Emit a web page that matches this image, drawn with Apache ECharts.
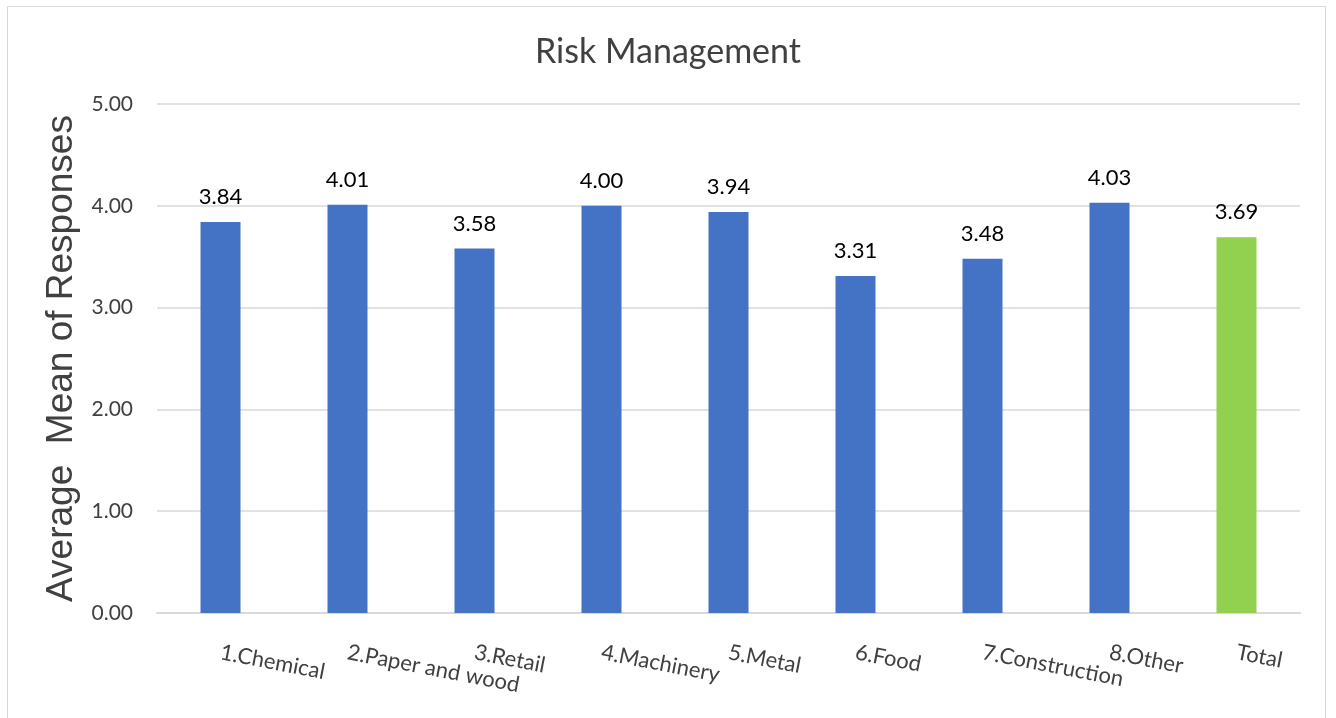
<!DOCTYPE html>
<html>
<head>
<meta charset="utf-8">
<script src="https://cdn.jsdelivr.net/npm/echarts@6/dist/echarts.min.js"></script>
<style>
html,body{margin:0;padding:0;background:#fff;}
#frame{position:absolute;left:7px;top:6px;width:1319px;height:720px;border:1.5px solid #d9d9d9;box-sizing:border-box;}
#chart{position:absolute;left:0;top:0;width:1336px;height:718px;}
</style>
</head>
<body>
<div id="frame"></div>
<div id="chart"></div>
<script>
const categories = ['1.Chemical','2.Paper and wood','3.Retail','4.Machinery','5.Metal','6.Food','7.Construction','8.Other','Total'];
const values = [3.84, 4.01, 3.58, 4.00, 3.94, 3.31, 3.48, 4.03, 3.69];
const barColors = ['#4472C4','#4472C4','#4472C4','#4472C4','#4472C4','#4472C4','#4472C4','#4472C4','#92D050'];
const yTicks = [0, 1, 2, 3, 4, 5];

const chart = echarts.init(document.getElementById('chart'), null, {renderer:'canvas'});
chart.setOption({
  animation: false,
  backgroundColor: 'transparent',
  title: {
    text: 'Risk Management',
    left: 'center',
    top: 30,
    textStyle: {fontFamily: 'Lato', fontSize: 34, fontWeight: 'normal', color: '#404040'}
  },
  grid: {left: 157, right: 36, top: 104, bottom: 105},
  xAxis: {
    type: 'category',
    data: categories,
    axisLine: {lineStyle: {color: '#d9d9d9', width: 2}},
    axisTick: {show: false},
    axisLabel: {
      interval: 0,
      rotate: -11,
      margin: 39,
      fontFamily: 'Lato',
      fontSize: 22,
      color: '#404040'
    }
  },
  yAxis: {
    type: 'value',
    min: yTicks[0],
    max: yTicks[yTicks.length - 1],
    interval: 1,
    name: 'Average  Mean of Responses',
    nameLocation: 'middle',
    nameGap: 71,
    nameTextStyle: {fontFamily: 'Liberation Sans', fontSize: 37, color: '#404040'},
    axisLine: {show: false},
    axisTick: {show: false},
    axisLabel: {
      margin: 24,
      fontFamily: 'Lato',
      fontSize: 21,
      color: '#404040',
      formatter: v => v.toFixed(2)
    },
    splitLine: {lineStyle: {color: '#d9d9d9', width: 1.5}}
  },
  series: [{
    type: 'bar',
    data: values.map((v, i) => ({value: v, itemStyle: {color: barColors[i]}})),
    barWidth: 40,
    label: {
      show: true,
      position: 'top',
      distance: 14,
      fontFamily: 'Lato',
      fontSize: 22,
      color: '#000',
      formatter: p => p.value.toFixed(2)
    }
  }]
});
</script>
</body>
</html>
